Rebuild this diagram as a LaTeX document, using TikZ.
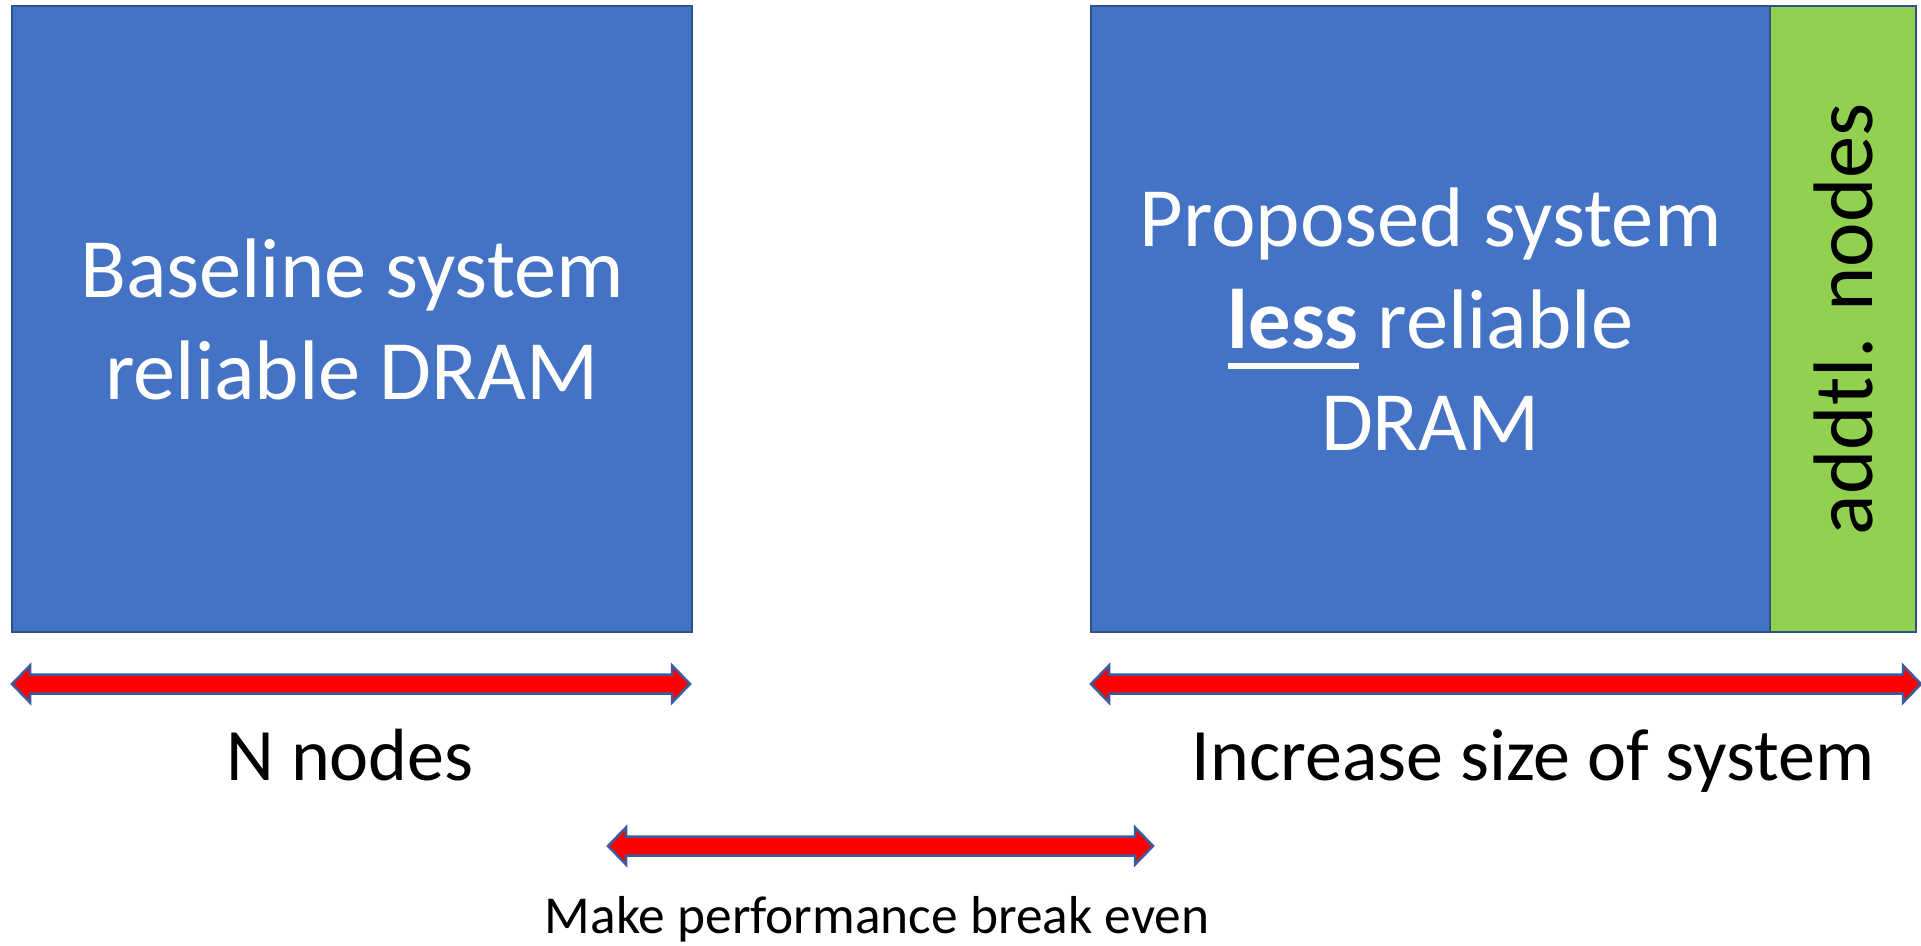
\documentclass[tikz,border=0pt]{standalone}
\usepackage{fontspec}
\setmainfont{Carlito}
\definecolor{boxblue}{HTML}{4472C4}
\definecolor{boxedge}{HTML}{2F528F}
\definecolor{addgreen}{HTML}{92D050}
\definecolor{arrowred}{HTML}{FF0000}
\definecolor{arrowedge}{HTML}{3B5C9C}
\newcommand\dblblockarrow[3]{%
  \draw[blockarrow] (#1,#3) -- (#1+18,#3-18.5) -- (#1+18,#3-9.5) -- (#2-18,#3-9.5)
    -- (#2-18,#3-18.5) -- (#2,#3) -- (#2-18,#3+18.5) -- (#2-18,#3+9.5)
    -- (#1+18,#3+9.5) -- (#1+18,#3+18.5) -- cycle;}
\newcommand\thickunderline[1]{\setbox0\hbox{#1}\rlap{\rule[-0.25em]{\wd0}{0.075em}}\box0\relax}
\begin{document}
\begin{tikzpicture}[x=1pt,y=-1pt,
  sysbox/.style={draw=boxedge, line width=2.5pt, fill=boxblue, inner sep=0pt,
    text=white, align=center, font=\fontsize{84.5}{102}\selectfont},
  addbox/.style={draw=boxedge, line width=2.5pt, fill=addgreen, inner sep=0pt},
  blockarrow/.style={draw=arrowedge, line width=2.5pt, fill=arrowred, line join=miter},
  biglabel/.style={font=\fontsize{74}{88}\selectfont, text=black, anchor=base, inner sep=0pt},
  smalllabel/.style={font=\fontsize{53.4}{64}\selectfont, text=black, anchor=base, inner sep=0pt}]
\useasboundingbox (0,0) rectangle (1921,945);
\node[sysbox, minimum width=680pt, minimum height=626pt] (base) at (352,319)
  {Baseline system\\reliable DRAM};
\node[sysbox, minimum width=679pt, minimum height=626pt] (prop) at (1430.5,319)
  {Proposed system\\\thickunderline{\textbf{less}} reliable\\DRAM};
\node[addbox, minimum width=146pt, minimum height=626pt] (add) at (1843,319) {};
\node[rotate=90, font=\fontsize{84.5}{102}\selectfont, text=black] (addtxt) at (add.center) {addtl. nodes};
\dblblockarrow{12}{690}{684}
\dblblockarrow{1091}{1921}{684}
\dblblockarrow{608}{1153}{846}
\node[biglabel] (nlabel) at (350,780) {N nodes};
\node[biglabel] (inclabel) at (1533,780) {Increase size of system};
\node[smalllabel] (breaklabel) at (877,933) {Make performance break even};
\end{tikzpicture}
\end{document}
